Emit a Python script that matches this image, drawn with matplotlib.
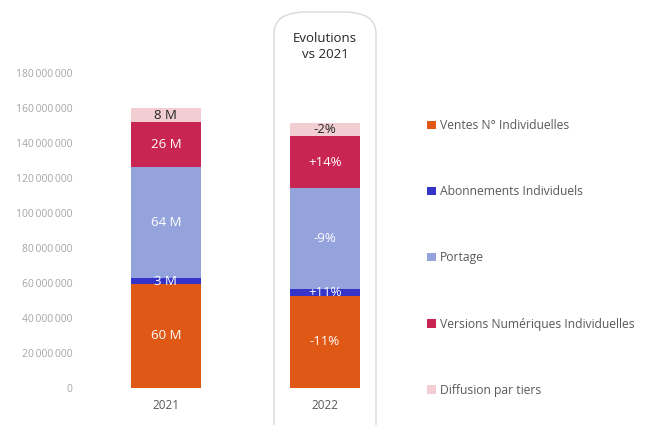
import matplotlib
matplotlib.use('Agg')
import matplotlib.pyplot as plt
from matplotlib.patches import FancyBboxPatch
from matplotlib.ticker import FuncFormatter

plt.rcParams['font.family'] = ['Open Sans', 'DejaVu Sans']

# données
annees = ['2021', '2022']
series = ['Ventes N° Individuelles', 'Abonnements Individuels', 'Portage',
          'Versions Numériques Individuelles', 'Diffusion par tiers']
valeurs_2021 = [59.5e6, 3.3e6, 63.5e6, 25.9e6, 7.7e6]
valeurs_2022 = [52.8e6, 3.6e6, 57.8e6, 29.6e6, 7.5e6]
etiquettes_2021 = ['60 M', '3 M', '64 M', '26 M', '8 M']
etiquettes_2022 = ['-11%', '+11%', '-9%', '+14%', '-2%']
couleurs = ['#E05816', '#3434C8', '#95A3DC', '#C92553', '#F2CDD2']
couleurs_texte = ['white', 'white', 'white', 'white', '#262626']

fig = plt.figure(figsize=(6.5, 4.25), dpi=100)
ax = fig.add_axes([0.133, 0.087, 0.489, 0.741])

# cadre arrondi autour de 2022
cadre = FancyBboxPatch((274 / 650, -0.05), 102 / 650, 1.0 - 12 / 425 + 0.05,
                       boxstyle='round,pad=0,rounding_size=0.05',
                       transform=fig.transFigure, facecolor='none',
                       edgecolor='#D9D9D9', linewidth=1.0, zorder=0)
fig.patches.append(cadre)

x = range(len(annees))
for j, (vals, etiq) in enumerate([(valeurs_2021, etiquettes_2021),
                                  (valeurs_2022, etiquettes_2022)]):
    bas = 0
    for i, v in enumerate(vals):
        ax.bar(j, v, bottom=bas, width=0.44, color=couleurs[i],
               label=series[i] if j == 0 else None)
        ax.text(j, bas + v / 2, etiq[i], ha='center', va='center',
                fontsize=9.5, color=couleurs_texte[i])
        bas += v

ax.set_xlim(-0.5, 1.5)
ax.set_ylim(0, 180e6)
ax.set_yticks(range(0, 180000001, 20000000))
ax.yaxis.set_major_formatter(FuncFormatter(lambda v, p: f'{int(v):,}'.replace(',', '\u2009')))
ax.set_xticks(list(x))
ax.set_xticklabels(annees)
ax.tick_params(axis='y', length=0, labelsize=7.5, labelcolor='#A6A6A6', pad=10)
ax.tick_params(axis='x', length=0, labelsize=8.5, labelcolor='#595959', pad=8)
for s in ax.spines.values():
    s.set_visible(False)

fig.text(325 / 650, 1 - 46 / 425, 'Evolutions\nvs 2021', ha='center', va='center',
         fontsize=9.5, color='#262626', linespacing=1.3)

handles, labels = ax.get_legend_handles_labels()
fig.legend(handles, labels, loc='upper left', bbox_to_anchor=(421 / 650, 1 - 113 / 425),
           frameon=False, fontsize=8.7, labelcolor='#595959', handlelength=0.7,
           handleheight=0.7, handletextpad=0.4, labelspacing=4.4, borderpad=0)

fig.savefig('out.png', dpi=100)
